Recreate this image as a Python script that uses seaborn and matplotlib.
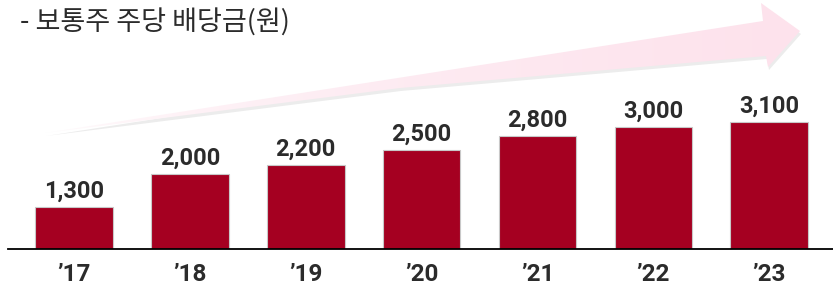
import numpy as np
import pandas as pd
import matplotlib.pyplot as plt
import seaborn as sns
from matplotlib.patches import Polygon

# data
years = ["’17", "’18", "’19", "’20", "’21", "’22", "’23"]
dividends = [1300, 2000, 2200, 2500, 2800, 3000, 3100]
title = "- 보통주 주당 배당금(원)"

bar_color = "#A50021"
text_color = "#2b2b2b"
num_font = ["Roboto", "DejaVu Sans"]

sns.set_theme(style="white")
plt.rcParams["font.family"] = ["Noto Sans CJK KR", "DejaVu Sans"]

W, H = 833, 287
fig = plt.figure(figsize=(W / 100, H / 100), dpi=100)

# background layer in pixel coordinates for the trend arrow
bg = fig.add_axes([0, 0, 1, 1], zorder=0)
bg.axis("off")

arrow_pts = [(45, 133), (763, 21), (761, 3), (800, 31), (768, 67), (766, 56), (400, 88)]
shadow = Polygon([(x + 1, y + 3) for x, y in arrow_pts], closed=True,
                 facecolor="#808080", alpha=0.15, edgecolor="none")
bg.add_patch(shadow)
arrow = Polygon(arrow_pts, closed=True, facecolor="none", edgecolor="none")
bg.add_patch(arrow)
grad = np.linspace(0, 1, 256) ** 0.5
rgb0 = np.array([1.0, 1.0, 1.0])
rgb1 = np.array([253, 226, 236]) / 255
img = rgb0[None, None, :] * (1 - grad[None, :, None]) + rgb1[None, None, :] * grad[None, :, None]
im = bg.imshow(img, extent=[40, 805, 140, 0], aspect="auto", zorder=2)
im.set_clip_path(arrow)
bg.set_xlim(0, W)
bg.set_ylim(H, 0)

# bar chart
ax = fig.add_axes([8 / W, 38 / H, 825 / W, 249 / H], zorder=1)
ax.patch.set_alpha(0)
df = pd.DataFrame({"year": years, "dividend": dividends})
sns.barplot(data=df, x="year", y="dividend", color=bar_color, saturation=1,
            width=0.67, edgecolor="#c8c8c8", linewidth=0.8, ax=ax)

ax.set_xlim(-0.57, 6.55)
ax.set_ylim(410, 5685)
for s in ["top", "right", "left"]:
    ax.spines[s].set_visible(False)
ax.spines["bottom"].set_color("black")
ax.spines["bottom"].set_linewidth(1.3)
ax.set_yticks([])
ax.set_xlabel("")
ax.set_ylabel("")
ax.tick_params(axis="x", length=0, pad=10)
for lbl in ax.get_xticklabels():
    lbl.set_fontfamily(num_font)
    lbl.set_fontweight("bold")
    lbl.set_fontsize(17.5)
    lbl.set_color(text_color)

for i, v in enumerate(dividends):
    ax.annotate(f"{v:,}", (i, v), xytext=(0, 3), textcoords="offset points",
                ha="center", va="bottom", fontsize=17, fontweight="bold",
                color=text_color, family=num_font)

fig.text(20 / W, 1 - 22 / H, title, fontsize=19.5, color=text_color, va="center", ha="left")

fig.savefig("out.png", dpi=100)
